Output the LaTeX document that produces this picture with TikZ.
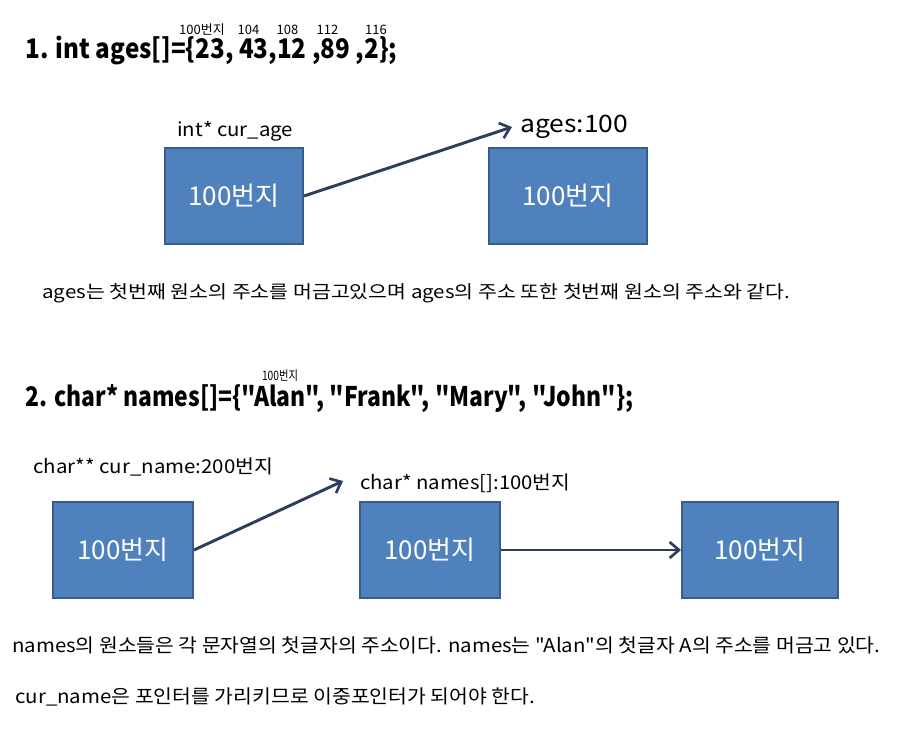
\documentclass[tikz,border=0pt]{standalone}
\usepackage{fontspec}
\setmainfont{Noto Sans CJK KR}[Ligatures=TeXOff]
\usepackage{graphicx}
\usetikzlibrary{arrows.meta}
\newdimen\pxu \pxu=0.75pt
\newcommand\fw[2]{\resizebox{#1\pxu}{\height}{#2}}
\newcommand\fs[1]{\fontsize{#1\pxu}{#1\pxu}\selectfont}
\newcommand\dq{\char34\relax}
\definecolor{boxfill}{HTML}{4F81BD}
\definecolor{boxline}{HTML}{385D8A}
\definecolor{arr}{HTML}{2C3E5C}
\tikzset{
  membox/.style={draw=boxline, line width=1.5pt, fill=boxfill, text=white,
    minimum height=72pt, inner sep=0pt, font=\fs{26}},
  lbl/.style={anchor=west, inner sep=0pt},
  blbl/.style={anchor=base west, inner sep=0pt},
  addr/.style={anchor=base, inner sep=0pt, font=\fs{13}},
  ptr/.style={draw=arr, line width=2.2pt, -{Straight Barb[length=7pt,width=12pt,line width=2pt]}}
}
\begin{document}
\begin{tikzpicture}[x=0.75pt,y=-0.75pt]
\useasboundingbox (0,0) rectangle (920,745);
% section 1
\node[blbl, font=\bfseries\fs{27}] (t1) at (25,58.5) {\fw{372}{1. int ages[]=\{23, 43,12 ,89 ,2\};}};
\node[addr] (a0) at (202,34.5) {100번지};
\node[addr] (a1) at (248.5,34.5) {104};
\node[addr] (a2) at (287.5,34.5) {108};
\node[addr] (a3) at (327.5,34.5) {112};
\node[addr] (a4) at (376,34.5) {116};
\node[membox, minimum width=103.5pt] (b1) at (234,196) {100번지};
\node[membox, minimum width=118.5pt] (b2) at (568,196) {100번지};
\node[lbl, font=\fs{19}] (l1) at (177,131) {\fw{116}{int* cur\_age}};
\node[lbl, font=\fs{24}] (l2) at (520,127) {\fw{108}{ages:100}};
\coordinate (p1) at (512,127);
\draw[ptr] (b1.east) -- (p1);
\node[lbl, font=\fs{18}] (s1) at (42,293) {\fw{748}{ages는 첫번째 원소의 주소를 머금고있으며 ages의 주소 또한 첫번째 원소의 주소와 같다.}};
% section 2
\node[blbl, font=\bfseries\fs{27}] (t2) at (25,406) {\fw{608}{2. char* names[]=\{\dq Alan\dq, \dq Frank\dq, \dq Mary\dq, \dq John\dq\};}};
\node[addr] (n0) at (280,380) {\fw{36}{100번지}};
\node[membox, minimum width=105pt] (b3) at (123,550) {\fw{91}{100번지}};
\node[membox, minimum width=105pt] (b4) at (430,550) {\fw{91}{100번지}};
\node[membox, minimum width=117pt] (b5) at (760,550) {\fw{91}{100번지}};
\node[lbl, font=\fs{19}] (l3) at (33,467) {\fw{240}{char** cur\_name:200번지}};
\node[lbl, font=\fs{19}] (l4) at (360,483) {\fw{210}{char* names[]:100번지}};
\coordinate (p2) at (343,481);
\draw[ptr] (b3.east) -- (p2);
\draw[ptr] (b4.east) -- (b5.west);
\node[lbl, font=\fs{19}] (s2) at (12,645) {\fw{868}{names의 원소들은 각 문자열의 첫글자의 주소이다. names는 \dq Alan\dq 의 첫글자 A의 주소를 머금고 있다.}};
\node[lbl, font=\fs{19}] (s3) at (15,697) {\fw{520}{cur\_name은 포인터를 가리키므로 이중포인터가 되어야 한다.}};
\end{tikzpicture}
\end{document}
